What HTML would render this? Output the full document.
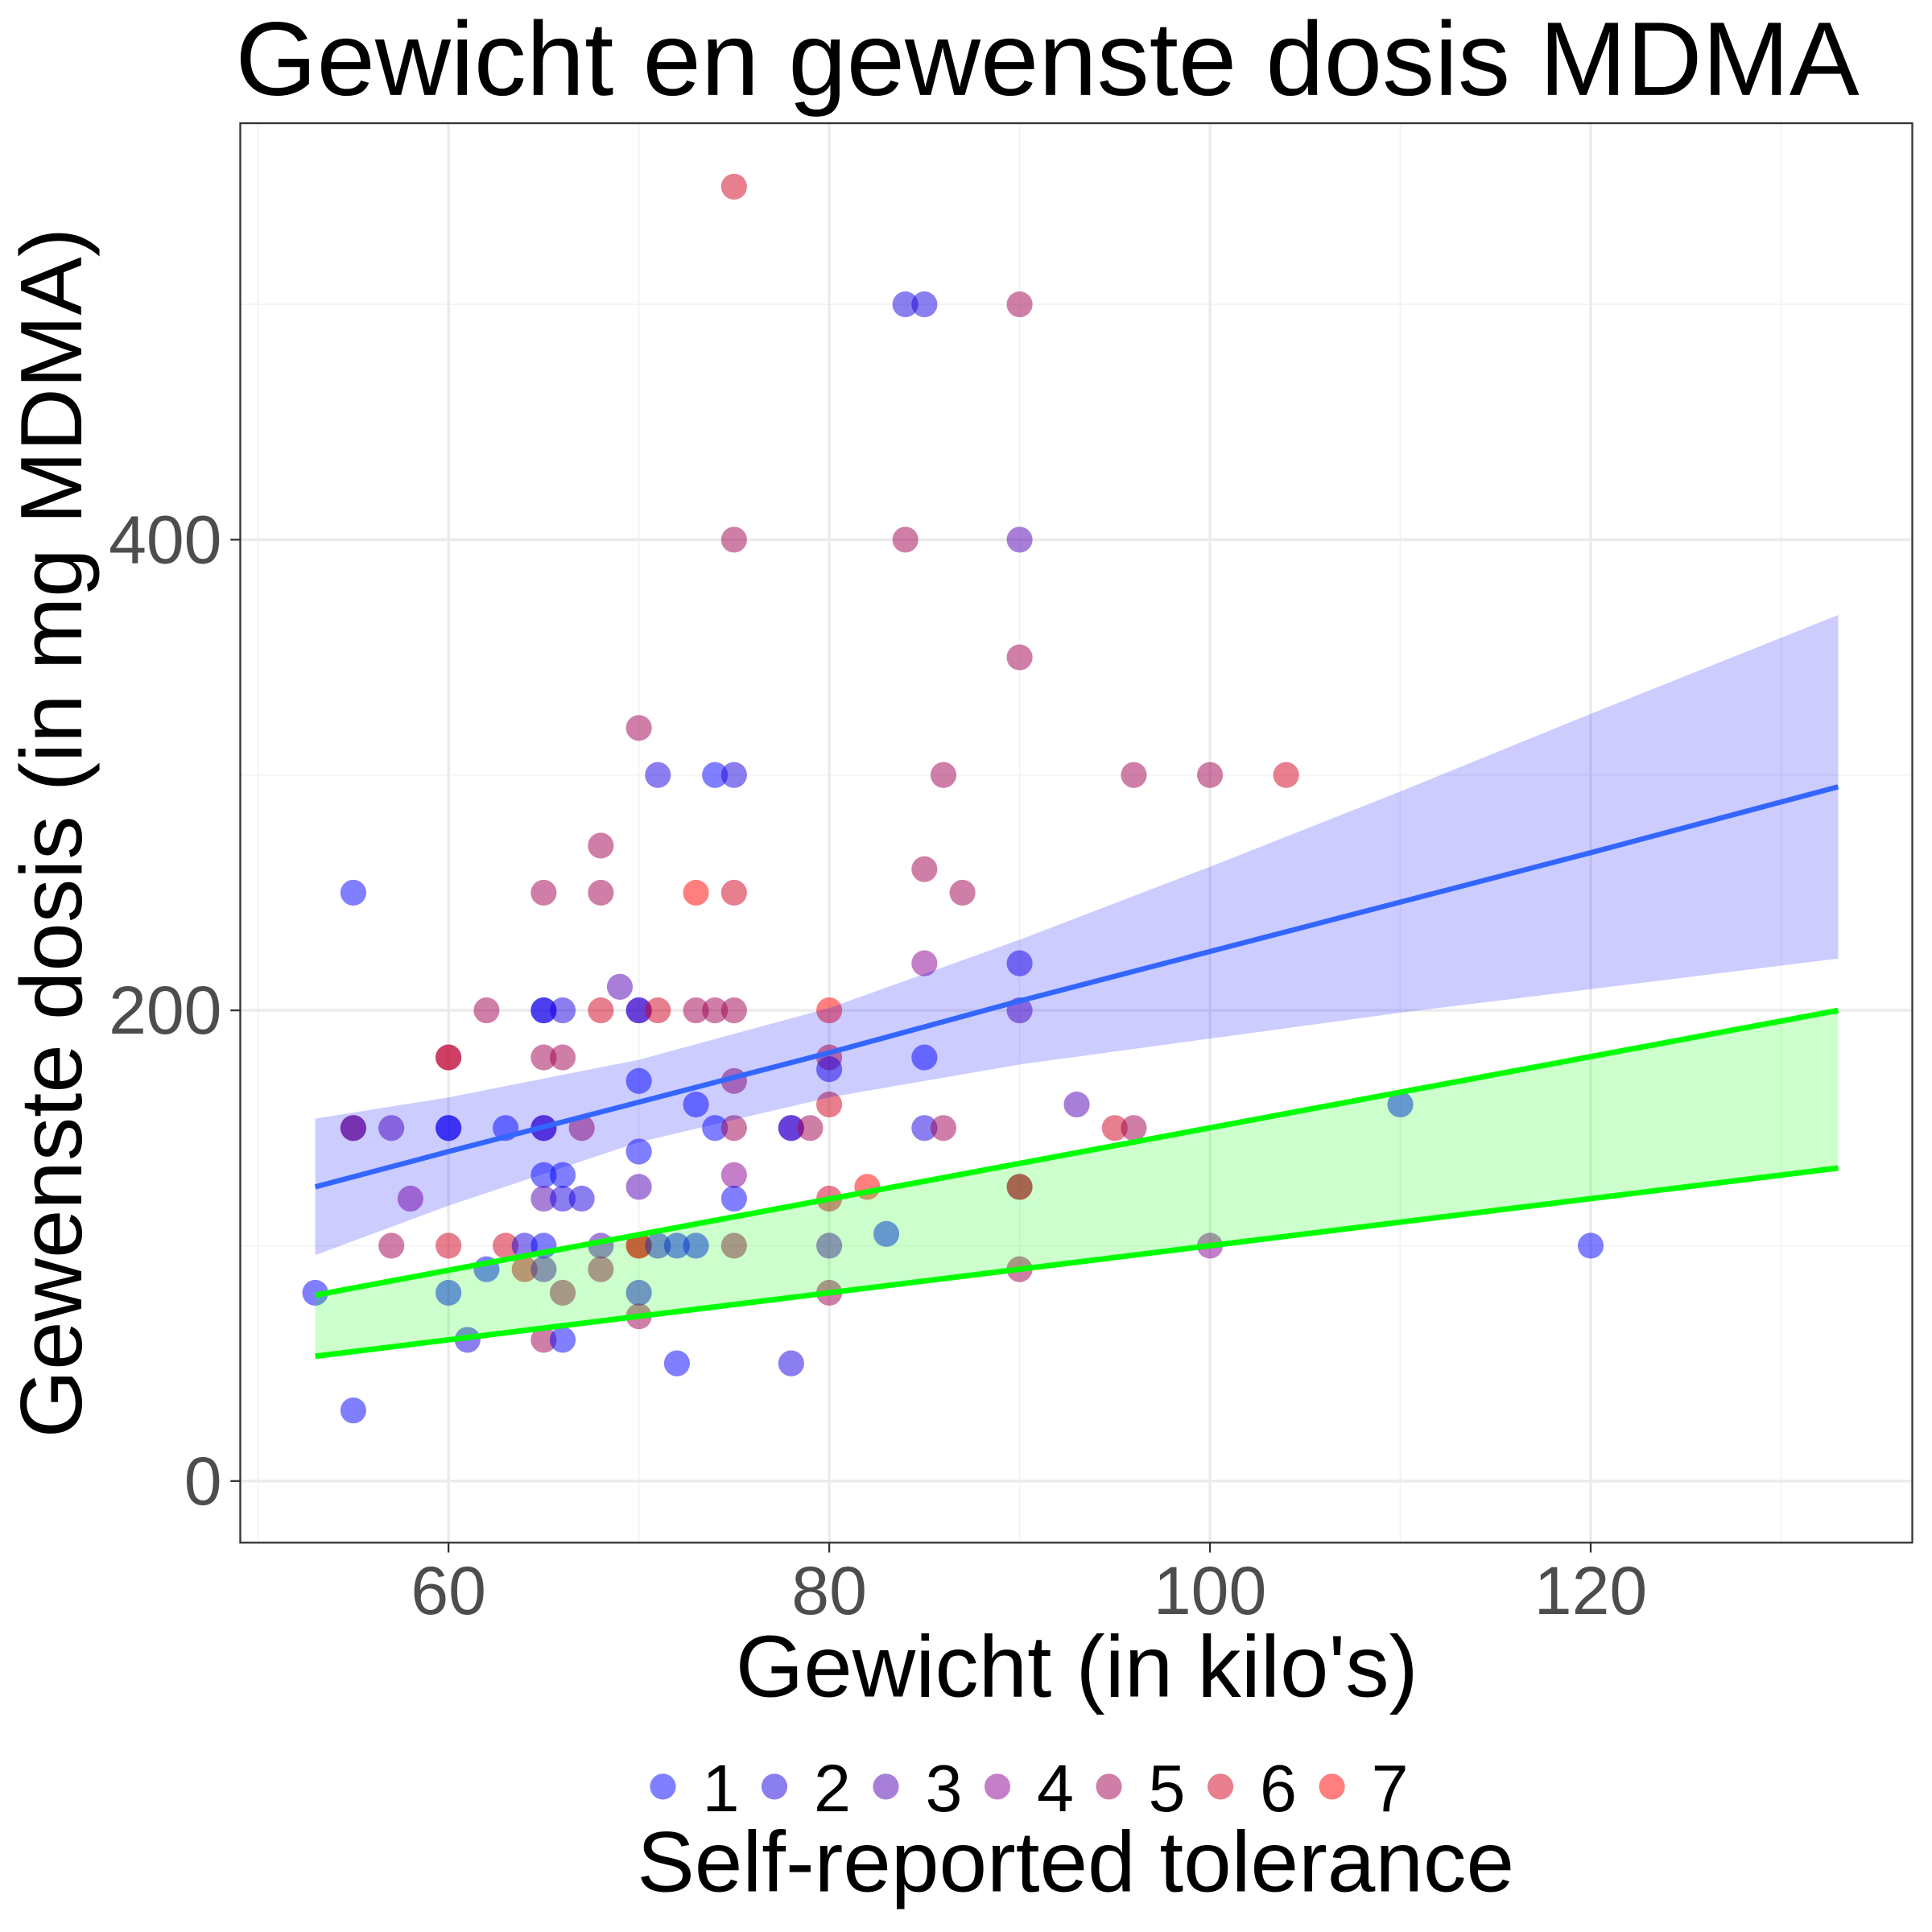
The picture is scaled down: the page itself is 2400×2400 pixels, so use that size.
<!DOCTYPE html>
<html><head><meta charset="utf-8"><style>html,body{margin:0;padding:0;background:#fff}svg{display:block}</style></head>
<body>
<svg id="chart" width="2400" height="2400" viewBox="0 0 1568 1568" xmlns="http://www.w3.org/2000/svg" font-family="Liberation Sans, sans-serif">
<rect width="1568" height="1568" fill="#fff"/>
<text x="850" y="77" font-size="85" text-anchor="middle" fill="#000">Gewicht en gewenste dosis MDMA</text>
<g id="grid"></g>
<g id="points"></g>
<g id="fits"></g>
<rect x="195" y="100" width="1357" height="1152" fill="none" stroke="#333" stroke-width="1.5"/>
<g id="axes"></g>
<text x="874" y="1377" font-size="71" text-anchor="middle">Gewicht (in kilo's)</text>
<text transform="translate(66,676) rotate(-90)" font-size="71" text-anchor="middle">Gewenste dosis (in mg MDMA)</text>
<g id="legend"></g>
<text x="873" y="1535" font-size="70" text-anchor="middle">Self-reported tolerance</text>
</svg>
<script>
const xs=[75,84,85,90,75,84,90,90,70,71,74,75,86,96,100,104,68,55,65,68,73,75,85,87,90,85,69,62,65,65,66,68,70,70,71,73,74,75,80,90,60,60,65,66,80,85,70,75,80,73,80,93,110,55,55,57,60,60,63,65,65,67,74,75,78,78,79,85,86,95,96,70,65,66,75,58,65,66,67,70,75,80,82,90,90,57,60,63,64,65,68,70,70,71,72,73,75,80,83,100,120,62,64,65,68,90,53,60,66,70,80,70,61,65,66,72,78,55];
const ys=[550,500,500,500,400,400,400,350,320,300,300,300,300,300,300,300,270,250,250,250,250,250,260,250,220,220,210,200,200,200,200,200,200,200,200,200,200,200,200,200,180,180,180,180,180,180,170,170,175,160,160,160,160,150,150,150,150,150,150,150,150,150,150,150,150,150,150,150,150,150,150,140,130,130,130,120,120,120,120,125,120,120,125,125,125,100,100,100,100,100,100,100,100,100,100,100,100,100,105,100,100,90,90,90,90,90,80,80,80,80,80,70,60,60,60,50,50,30];
const tol=[6,2,2,5,5,5,3,5,5,2,1,2,5,5,5,6,5,1,5,5,7,6,5,5,2,4,3,5,1,2,2,6,1,3,6,5,5,5,7,3,5,6,5,5,6,1,1,5,2,1,6,3,1,2,5,3,1,2,1,1,3,5,1,5,1,3,5,2,5,6,5,1,1,1,4,4,3,2,2,3,1,6,7,5,6,5,6,6,2,1,3,6,7,2,1,1,5,3,1,4,1,1,6,3,5,5,1,1,5,2,5,5,2,5,1,1,2,1];
const bandX=[53,60,70,80,90,100,110,120,133];
const blueFit=[125,140,161,182,204,225,246,267,295];
const blueLo=[96,117,144,163,177,188,199,209,222];
const blueHi=[154,163,179,201,230,261,293,326,368];
const greenX=[53,133];
const greenUpper=[79,200];
const greenLower=[53,133];
const xTicks=[60,80,100,120], yTicks=[0,200,400];
const xMinor=[50,70,90,110,130], yMinor=[100,300,500];
const tolLevels=[1,2,3,4,5,6,7];
const tolColors=['#0000ff','#1800e0','#5100b1','#8b0093','#a00050','#d0001f','#ff0000'];
const NS='http://www.w3.org/2000/svg';
const sx=v=>364+(v-60)*15.45, sy=v=>1202-v*1.91;
function mk(tag,attrs,parent){const e=document.createElementNS(NS,tag);for(const k in attrs)e.setAttribute(k,attrs[k]);parent.appendChild(e);return e;}
const grid=document.getElementById('grid');
mk('rect',{x:195,y:100,width:1357,height:1152,fill:'#fff'},grid);
xMinor.forEach(v=>{const l=mk('line',{x1:sx(v),x2:sx(v),y1:100,y2:1252,stroke:'#f3f3f3','stroke-width':1.2},grid);});
yMinor.forEach(v=>{const l=mk('line',{x1:195,x2:1552,y1:sy(v),y2:sy(v),stroke:'#f3f3f3','stroke-width':1.2},grid);});
xTicks.forEach(v=>{const l=mk('line',{x1:sx(v),x2:sx(v),y1:100,y2:1252,stroke:'#ebebeb','stroke-width':2.2},grid);});
yTicks.forEach(v=>{const l=mk('line',{x1:195,x2:1552,y1:sy(v),y2:sy(v),stroke:'#ebebeb','stroke-width':2.2},grid);});
const pts=document.getElementById('points');
xs.forEach((x,i)=>{const c=mk('circle',{cx:sx(x),cy:sy(ys[i]),r:10.5,fill:tolColors[tol[i]-1],'fill-opacity':0.5},pts);

});
const fits=document.getElementById('fits');
let d='M'+bandX.map((x,i)=>sx(x)+','+sy(blueHi[i])).join('L')+'L'+bandX.map((x,i)=>sx(x)+','+sy(blueLo[i])).reverse().join('L')+'Z';
const br=mk('path',{d:d,fill:'#0000ff','fill-opacity':0.2},fits);


const bl=mk('polyline',{points:bandX.map((x,i)=>sx(x)+','+sy(blueFit[i])).join(' '),fill:'none',stroke:'#3366ff','stroke-width':4.2},fits);


d='M'+sx(greenX[0])+','+sy(greenUpper[0])+'L'+sx(greenX[1])+','+sy(greenUpper[1])+'L'+sx(greenX[1])+','+sy(greenLower[1])+'L'+sx(greenX[0])+','+sy(greenLower[0])+'Z';
const gr=mk('path',{d:d,fill:'#00ff00','fill-opacity':0.2},fits);


const gu=mk('line',{x1:sx(greenX[0]),y1:sy(greenUpper[0]),x2:sx(greenX[1]),y2:sy(greenUpper[1]),stroke:'#00ff00','stroke-width':4.5},fits);


const gl=mk('line',{x1:sx(greenX[0]),y1:sy(greenLower[0]),x2:sx(greenX[1]),y2:sy(greenLower[1]),stroke:'#00ff00','stroke-width':4.5},fits);


const ax=document.getElementById('axes');
xTicks.forEach(v=>{mk('line',{x1:sx(v),x2:sx(v),y1:1252,y2:1260,stroke:'#333','stroke-width':1.5},ax);
const t=mk('text',{x:sx(v),y:1310,'font-size':55,'text-anchor':'middle',fill:'#4d4d4d'},ax);t.textContent=v;

});
yTicks.forEach(v=>{mk('line',{x1:187,x2:195,y1:sy(v),y2:sy(v),stroke:'#333','stroke-width':1.5},ax);
const t=mk('text',{x:180,y:sy(v)+19,'font-size':55,'text-anchor':'end',fill:'#4d4d4d'},ax);t.textContent=v;

});
const lg=document.getElementById('legend');
tolLevels.forEach((lv,i)=>{const x=538+i*90.5;
const c=mk('circle',{cx:x,cy:1450,r:10.5,fill:tolColors[i],'fill-opacity':0.5},lg);


const t=mk('text',{x:x+32,y:1470,'font-size':54,fill:'#000'},lg);t.textContent=lv;

});
</script>
</body></html>
